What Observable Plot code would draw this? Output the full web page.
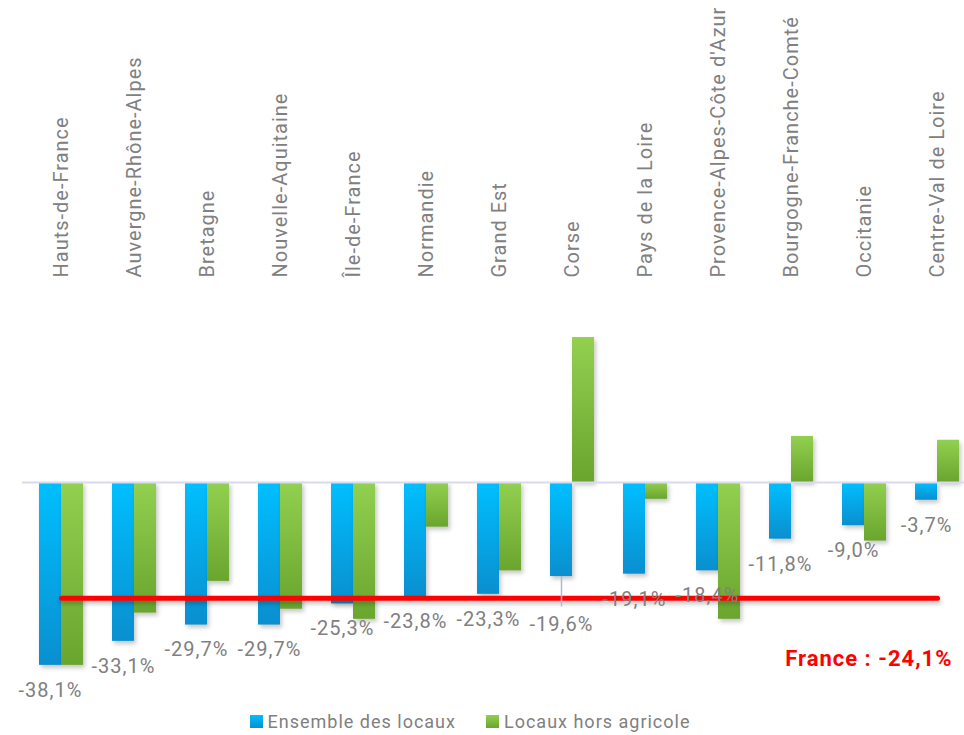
<!DOCTYPE html>
<html><head><meta charset="utf-8">
<script src="https://cdn.jsdelivr.net/npm/d3@7"></script>
<script src="https://cdn.jsdelivr.net/npm/@observablehq/plot@0.6"></script>
<style>
body{margin:0;background:#fff;font-family:Roboto,sans-serif;}
#chart svg text{letter-spacing:1px;}
#chart g[aria-label="bar"]{filter:drop-shadow(2px 3px 2px rgba(0,0,0,0.22));}
#chart g[aria-label="line"]{filter:drop-shadow(1px 3px 2px rgba(0,0,0,0.25));}
.legend{display:flex;justify-content:center;gap:30px;height:27px;align-items:center;font-size:18px;color:#808080;letter-spacing:1px;padding-right:24px;box-sizing:border-box;width:964px;}
.legend .item{display:flex;align-items:center;}
.legend .sw{display:inline-block;width:13px;height:13px;margin-right:5px;}
</style></head><body>
<div id="chart"></div>
<script>
const regions = ["Hauts-de-France","Auvergne-Rhône-Alpes","Bretagne","Nouvelle-Aquitaine","Île-de-France","Normandie","Grand Est","Corse","Pays de la Loire","Provence-Alpes-Côte d'Azur","Bourgogne-Franche-Comté","Occitanie","Centre-Val de Loire"];
const ensemble = [-38.1,-33.1,-29.7,-29.7,-25.3,-23.8,-23.3,-19.6,-19.1,-18.4,-11.8,-9.0,-3.7];
const horsAgricole = [-38.1,-27.2,-20.6,-26.4,-28.5,-9.3,-18.4,30.2,-3.5,-28.5,9.6,-12.2,8.8];
const france = -24.1;
const seriesNames = ["Ensemble des locaux","Locaux hors agricole"];
const colorsTop = ["#00BFFF","#92D050"];
const colorsBottom = ["#0A8FCF","#6AA52E"];

const data = regions.map((r,i)=>({region:r, ensemble:ensemble[i], hors:horsAgricole[i]}));
const fmt = v => v.toFixed(1).replace(".", ",") + "%";

const defs = () => {
  const d = document.createElementNS("http://www.w3.org/2000/svg","defs");
  d.innerHTML = `<linearGradient id="gBlue" x1="0" y1="0" x2="0" y2="1"><stop offset="0" stop-color="${colorsTop[0]}"/><stop offset="1" stop-color="${colorsBottom[0]}"/></linearGradient>
  <linearGradient id="gGreen" x1="0" y1="0" x2="0" y2="1"><stop offset="0" stop-color="${colorsTop[1]}"/><stop offset="1" stop-color="${colorsBottom[1]}"/></linearGradient>`;
  return d;
};

const last = regions[regions.length-1];
const chart = Plot.plot({
  width:964, height:708,
  marginTop:277, marginLeft:22, marginRight:0, marginBottom:0,
  x:{domain:regions, range:[21,976], paddingInner:0.4, paddingOuter:0.2, align:0.5},
  y:{domain:[-40,40], range:[674,290], axis:null},
  style:{fontFamily:"Roboto, sans-serif", background:"white"},
  marks:[
    defs,
    Plot.barY(data,{x:"region", y:"ensemble", fill:"url(#gBlue)", insetRight:22}),
    Plot.barY(data,{x:"region", y:"hors", fill:"url(#gGreen)", insetLeft:22}),
    Plot.ruleY([0],{stroke:"#D9D9EF", strokeWidth:2}),
    Plot.line([{r:regions[0], v:france},{r:last, v:france}],{x:"r", y:"v", stroke:"#FF0000", strokeWidth:5, strokeLinecap:"round"}),
    Plot.ruleX(data,{filter:d=>d.region==="Corse", x:"region", y1:"ensemble", y2:d=>d.ensemble-6.3, dx:-11, stroke:"#B4B4E0", strokeWidth:1.5}),
    Plot.text(data,{filter:d=>d.region!=="Corse", x:"region", y:"ensemble", text:d=>fmt(d.ensemble), dx:-11, dy:25, fontSize:20, fill:"#808080"}),
    Plot.text(data,{filter:d=>d.region==="Corse", x:"region", y:"ensemble", text:d=>fmt(d.ensemble), dx:-11, dy:48, fontSize:20, fill:"#808080"}),
    Plot.text([france],{x:()=>last, y:d=>d, text:d=>"France : "+fmt(d), textAnchor:"end", dx:15, dy:61, fill:"#FF0000", fontWeight:"bold", fontSize:22}),
    Plot.axisX({anchor:"top", tickSize:0, tickPadding:0, tickRotate:-90, fontSize:20, fill:"#808080"})
  ]
});
document.getElementById("chart").appendChild(chart);

const legend = document.createElement("div");
legend.className = "legend";
seriesNames.forEach((n,i)=>{
  const it = document.createElement("div"); it.className="item";
  const sw = document.createElement("span"); sw.className="sw";
  sw.style.background = `linear-gradient(${colorsTop[i]}, ${colorsBottom[i]})`;
  const t = document.createElement("span"); t.textContent = n;
  it.appendChild(sw); it.appendChild(t); legend.appendChild(it);
});
document.body.appendChild(legend);
</script>
</body></html>
